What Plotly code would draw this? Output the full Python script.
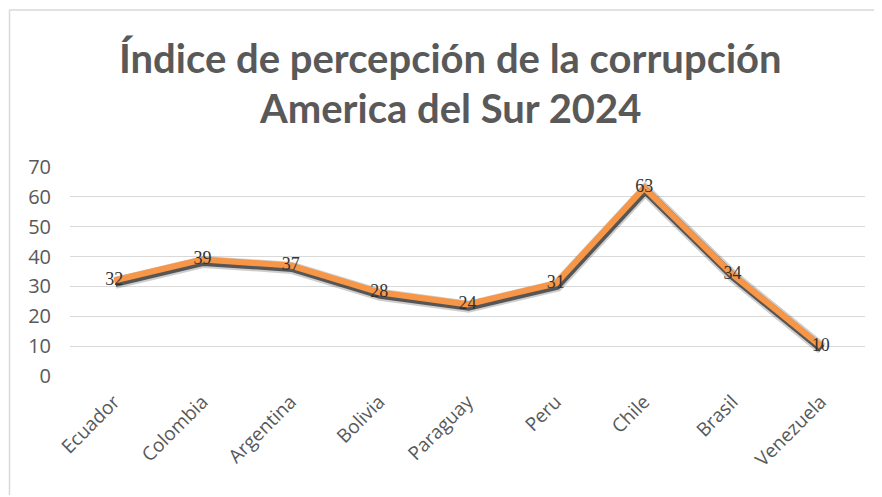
import plotly.graph_objects as go

paises = ["Ecuador", "Colombia", "Argentina", "Bolivia", "Paraguay", "Peru", "Chile", "Brasil", "Venezuela"]
indice = [32, 39, 37, 28, 24, 31, 63, 34, 10]
y_ticks = [0, 10, 20, 30, 40, 50, 60, 70]

OFF = 8  # default body margin of the page
W, H = 882 - OFF, 497 - OFF
L, R, T, B = 70 - OFF, 17, 167 - OFF, 121
PW = W - L - R
PH = H - T - B


def px(X):
    return (X - OFF - L) / PW


def py(Y):
    return (OFF + T + PH - Y) / PH


fig = go.Figure()
# soft outer shadow
fig.add_trace(go.Scatter(x=list(range(len(paises))), y=indice, mode="lines",
                         line=dict(color="rgba(60,60,60,0.25)", width=12),
                         xaxis="x2", yaxis="y2", hoverinfo="skip", showlegend=False))
# shadow trace on offset axes (drawn first)
fig.add_trace(go.Scatter(x=list(range(len(paises))), y=indice, mode="lines",
                         line=dict(color="rgba(35,35,35,0.7)", width=8),
                         xaxis="x2", yaxis="y2", hoverinfo="skip", showlegend=False))
# main orange line on top
fig.add_trace(go.Scatter(x=list(range(len(paises))), y=indice, mode="lines+text",
                         line=dict(color="#F79646", width=6),
                         text=[str(v) for v in indice], textposition="middle center",
                         textfont=dict(family="Liberation Serif", size=18, color="#333333"),
                         xaxis="x3", yaxis="y3", showlegend=False))
# invisible base trace to hold the category axis
fig.add_trace(go.Scatter(x=paises, y=indice, mode="lines", line=dict(width=0),
                         opacity=0, hoverinfo="skip", showlegend=False))

fig.update_layout(
    width=W, height=H,
    margin=dict(l=L, r=R, t=T, b=B, autoexpand=False),
    paper_bgcolor="white", plot_bgcolor="white",
    xaxis=dict(type="category", range=[-0.5, 8.5], tickangle=-45, showgrid=False,
               showline=False, ticks="", automargin=False, ticklabelstandoff=10,
               tickfont=dict(family="Open Sans", size=19, color="#595959")),
    yaxis=dict(range=[0, 70], tickvals=y_ticks, showgrid=True, gridcolor="#D9D9D9",
               gridwidth=1, zeroline=False, showline=False, ticks="", automargin=False,
               ticklabelstandoff=18,
               tickfont=dict(family="Open Sans", size=20, color="#595959")),
    xaxis2=dict(range=[-0.5 - 0.012, 8.5 - 0.012], overlaying="x", visible=False),
    yaxis2=dict(range=[0.8, 70.8], overlaying="y", visible=False),
    xaxis3=dict(range=[-0.5, 8.5], overlaying="x", visible=False),
    yaxis3=dict(range=[0, 70], overlaying="y", visible=False),
    annotations=[
        dict(text="<b>Índice de percepción de la corrupción</b>", xref="paper", yref="paper",
             x=px(450), y=py(58), xanchor="center", yanchor="middle",
             showarrow=False, font=dict(family="Lato", size=40, color="#595959")),
        dict(text="<b>America del Sur 2024</b>", xref="paper", yref="paper",
             x=px(450), y=py(108), xanchor="center", yanchor="middle",
             showarrow=False, font=dict(family="Lato", size=40, color="#595959")),
    ],
    shapes=[
        dict(type="line", xref="paper", yref="paper",
             x0=px(9), x1=px(882), y0=py(10), y1=py(10),
             line=dict(color="#D9D9D9", width=1.5), layer="below"),
        dict(type="line", xref="paper", yref="paper",
             x0=px(9.5), x1=px(9.5), y0=py(10), y1=py(495),
             line=dict(color="#D9D9D9", width=1.5), layer="below"),
    ],
)

fig.write_html("out.html")
